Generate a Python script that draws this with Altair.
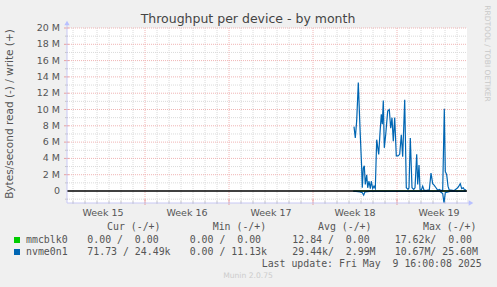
import altair as alt
import pandas as pd

# ---------------- data ----------------
# x = days since Mon 7 Apr 2025 00:00, y = MB/s
write_day = [24.417, 24.525, 24.64, 24.775, 24.917, 25.058, 25.108, 25.192, 25.275, 25.358,
             25.475, 25.558, 25.667, 25.775, 25.858, 25.975, 26.083, 26.192, 26.308, 26.475,
             26.583, 26.692, 26.775, 26.858, 26.942, 27.058, 27.225, 27.358, 27.475, 27.583,
             27.692, 27.808, 27.942, 28.083, 28.225, 28.358, 28.475, 28.642, 28.775, 28.917,
             29.0, 29.108, 29.25, 29.392, 29.5, 29.642, 29.725, 29.833, 29.917, 30.025,
             30.142, 30.25, 30.417, 30.583, 30.69, 30.833, 30.975, 31.108, 31.25, 31.392,
             31.525, 31.667, 31.808, 31.942, 32.025, 32.142, 32.25, 32.358, 32.5, 32.75,
             33.058, 33.192, 33.275, 33.392, 33.525, 33.642, 33.75]
write_val = [7.9, 6.5, 8.6, 13.3, 7.7, 2.8, 0.4, 2.8, 3.1, 0.8,
             2.0, 0.4, 1.2, 0.3, 1.2, 0.3, 0.6, 0.3, 6.3, 4.5,
             7.1, 9.4, 8.2, 11.1, 5.3, 6.9, 9.8, 10.0, 7.7, 9.0,
             6.1, 9.0, 4.3, 4.3, 4.5, 6.9, 4.2, 11.2, 0.4, 0.2,
             0.4, 6.5, 0.4, 0.2, 0.4, 4.5, 0.8, 3.2, 0.2, 0.1,
             0.6, 0.1, 0.05, 0.1, 0.1, 2.2, 0.9, 0.7, 0.4, 0.1,
             0.2, 0.05, 0.1, 10.1, 2.4, 2.0, 0.6, 0.1, 0.1, 0.05,
             0.4, 0.7, 0.9, 0.3, 0.4, 0.1, 0.2]
read_day = [24.358, 24.583, 24.917, 25.108, 25.225, 25.333, 25.75, 26.583, 28.25, 29.917,
            31.583, 31.808, 31.917, 32.025, 32.417, 33.75]
read_val = [-0.05, -0.05, -0.1, -0.2, -0.5, -0.1, -0.05, -0.05, -0.05, -0.05,
            -0.05, -0.3, -1.47, -0.2, -0.05, -0.05]
mmc_day = [24.358, 33.75]
mmc_val = [0.0, 0.0]

week_pos = [3.5, 10.5, 17.5, 24.5, 31.5]
week_labels = ["Week 15", "Week 16", "Week 17", "Week 18", "Week 19"]
y_tick_vals = [0, 2, 4, 6, 8, 10, 12, 14, 16, 18, 20]
y_tick_labels = ["0", "2 M", "4 M", "6 M", "8 M", "10 M", "12 M", "14 M", "16 M", "18 M", "20 M"]

series_names = ["mmcblk0", "nvme0n1"]
series_colors = ["#00CC00", "#0066B3"]
cur_read = ["0.00", "71.73"]
cur_write = ["0.00", "24.49k"]
min_read = ["0.00", "0.00"]
min_write = ["0.00", "11.13k"]
avg_read = ["12.84", "29.44k"]
avg_write = ["0.00", "2.99M"]
max_read = ["17.62k", "10.67M"]
max_write = ["0.00", "25.60M"]
headers = ["Cur (-/+)", "Min (-/+)", "Avg (-/+)", "Max (-/+)"]

# ---------------- layout ----------------
W, H = 400, 175
OX, OY = 67, 28
X_DOM = [0.5, 33.8333]
Y_DOM = [-1.47, 20]
xs = alt.Scale(domain=X_DOM, nice=False, zero=False)
ys = alt.Scale(domain=Y_DOM, nice=False, zero=False)
TXT = "#555555"
SANS = "DejaVu Sans"
MONO = "DejaVu Sans Mono"
MINOR = "#dadada"
MAJOR = "#f0b4b4"


def label(text, x, y, size, color=TXT, font=SANS, align="left", angle=0):
    kw = dict(font=font, fontSize=size, color=color, align=align, baseline="middle")
    if angle:
        kw["angle"] = angle
    return alt.Chart(pd.DataFrame({"t": [text]})).mark_text(**kw).encode(
        text="t:N", x=alt.value(x - OX), y=alt.value(y - OY))


def cell(v):
    if v[-1] in "kM":
        num, u = v[:-1], v[-1]
    else:
        num, u = v, " "
    return num.rjust(6) + u


def pair(r, w):
    return (cell(r) + "/" + cell(w)).replace(" ", "\u00a0")


layers = []

# grid
days = list(range(1, 34))
minor_x = [d for d in days if d % 7 != 0]
major_x = [d for d in days if d % 7 == 0]
minor_y = [v for v in range(-1, 20) if v % 2 != 0]
major_y = [v for v in range(2, 21, 2)]

gx = pd.DataFrame({"d": minor_x})
layers.append(alt.Chart(gx).mark_rule(color=MINOR, strokeDash=[1, 1], strokeWidth=1).encode(
    x=alt.X("d:Q", scale=xs, axis=None), y=alt.value(0), y2=alt.value(H)))
layers.append(alt.Chart(gx).mark_rule(color="#c4c4c4", strokeWidth=1).encode(
    x=alt.X("d:Q", scale=xs, axis=None), y=alt.value(H - 2), y2=alt.value(H + 1)))
gy = pd.DataFrame({"v": minor_y})
layers.append(alt.Chart(gy).mark_rule(color=MINOR, strokeDash=[1, 1], strokeWidth=1).encode(
    y=alt.Y("v:Q", scale=ys, axis=None), x=alt.value(0), x2=alt.value(W)))
layers.append(alt.Chart(gy).mark_rule(color="#c4c4c4", strokeWidth=1).encode(
    y=alt.Y("v:Q", scale=ys, axis=None), x=alt.value(-2), x2=alt.value(1)))
gmx = pd.DataFrame({"d": major_x})
layers.append(alt.Chart(gmx).mark_rule(color=MAJOR, strokeDash=[1, 1], strokeWidth=1).encode(
    x=alt.X("d:Q", scale=xs, axis=None), y=alt.value(0), y2=alt.value(H)))
layers.append(alt.Chart(gmx).mark_rule(color="#e8a0a0", strokeWidth=1).encode(
    x=alt.X("d:Q", scale=xs, axis=None), y=alt.value(H - 4), y2=alt.value(H + 2)))
gmy = pd.DataFrame({"v": major_y})
layers.append(alt.Chart(gmy).mark_rule(color=MAJOR, strokeDash=[1, 1], strokeWidth=1).encode(
    y=alt.Y("v:Q", scale=ys, axis=None), x=alt.value(0), x2=alt.value(W)))
layers.append(alt.Chart(gmy).mark_rule(color="#e8a0a0", strokeWidth=1).encode(
    y=alt.Y("v:Q", scale=ys, axis=None), x=alt.value(-3), x2=alt.value(2)))

# series
layers.append(alt.Chart(pd.DataFrame({"d": mmc_day, "v": mmc_val})).mark_line(
    color=series_colors[0], strokeWidth=1.2, clip=True).encode(
    x=alt.X("d:Q", scale=xs, axis=None), y=alt.Y("v:Q", scale=ys, axis=None)))
layers.append(alt.Chart(pd.DataFrame({"d": read_day, "v": read_val})).mark_line(
    color=series_colors[1], strokeWidth=1.2, clip=True).encode(
    x=alt.X("d:Q", scale=xs, axis=None), y=alt.Y("v:Q", scale=ys, axis=None)))
layers.append(alt.Chart(pd.DataFrame({"d": write_day, "v": write_val})).mark_line(
    color=series_colors[1], strokeWidth=1.2, clip=True).encode(
    x=alt.X("d:Q", scale=xs, axis=None), y=alt.Y("v:Q", scale=ys, axis=None)))

# zero line
layers.append(alt.Chart(pd.DataFrame({"v": [0]})).mark_rule(color="#000000", strokeWidth=1.3).encode(
    y=alt.Y("v:Q", scale=ys, axis=None), x=alt.value(0), x2=alt.value(W)))

# axis lines + arrows
AX = "#c8c8f4"
layers.append(alt.Chart(pd.DataFrame({"a": [0]})).mark_rule(color=AX, strokeWidth=1).encode(
    x=alt.value(0), y=alt.value(-5), y2=alt.value(H)))
layers.append(alt.Chart(pd.DataFrame({"a": [0]})).mark_rule(color=AX, strokeWidth=1).encode(
    x=alt.value(0), x2=alt.value(W + 3), y=alt.value(H)))
layers.append(alt.Chart(pd.DataFrame({"a": [0]})).mark_point(
    shape="triangle-up", filled=True, color="#b8c0ff", size=28, opacity=1).encode(
    x=alt.value(0), y=alt.value(-5)))
layers.append(alt.Chart(pd.DataFrame({"a": [0]})).mark_point(
    shape="triangle-right", filled=True, color="#b8c0ff", size=28, opacity=1).encode(
    x=alt.value(W + 4), y=alt.value(H)))

# tick labels
layers.append(alt.Chart(pd.DataFrame({"d": week_pos, "t": week_labels})).mark_text(
    font=SANS, fontSize=9.5, color=TXT, baseline="middle", align="center").encode(
    x=alt.X("d:Q", scale=xs, axis=None), y=alt.value(212.5 - OY), text="t:N"))
layers.append(alt.Chart(pd.DataFrame({"v": y_tick_vals, "t": y_tick_labels})).mark_text(
    font=SANS, fontSize=9.5, color=TXT, baseline="middle", align="right").encode(
    y=alt.Y("v:Q", scale=ys, axis=None), x=alt.value(60 - OX), text="t:N"))

# titles
layers.append(label("Throughput per device - by month", 248, 19, 12.5, color="#444444", align="center"))
layers.append(label("Bytes/second read (-) / write (+)", 10, 114, 10.5, align="center", angle=270))
layers.append(label("RRDTOOL / TOBI OETIKER", 487, 53.5, 7.5, color="#c8c8c8", align="center", angle=90))

# legend
col_x = [87.3, 189.7, 292.3, 394.7]
head_x = [107, 212.7, 318, 423]
row_y = [240, 252]
for hx, h in zip(head_x, headers):
    layers.append(label(h.replace(" ", "\u00a0"), hx, 227.3, 9.9, font=MONO))
cols = [(cur_read, cur_write), (min_read, min_write), (avg_read, avg_write), (max_read, max_write)]
for i, name in enumerate(series_names):
    layers.append(alt.Chart(pd.DataFrame({"a": [0]})).mark_square(
        color=series_colors[i], size=36, opacity=1).encode(
        x=alt.value(17 - OX), y=alt.value(row_y[i] - OY)))
    layers.append(label(name, 26, row_y[i], 9.9, font=MONO))
    for cx, (r, w) in zip(col_x, cols):
        layers.append(label(pair(r[i], w[i]), cx, row_y[i], 9.9, font=MONO))
layers.append(label("Last update: Fri May  9 16:00:08 2025".replace(" ", "\u00a0"), 261.7, 263.5, 9.9, font=MONO))
layers.append(label("Munin 2.0.75", 248, 276, 7.6, color="#cccccc", align="center"))

chart = alt.layer(*layers).properties(
    width=W, height=H,
    autosize=alt.AutoSizeParams(type="none"),
    padding={"left": OX, "top": OY, "right": 497 - OX - W, "bottom": 287 - OY - H},
).configure(background="#f0f0f0").configure_view(fill="white", stroke=None)

chart.save("out.html", embed_options={"renderer": "svg", "actions": False})
